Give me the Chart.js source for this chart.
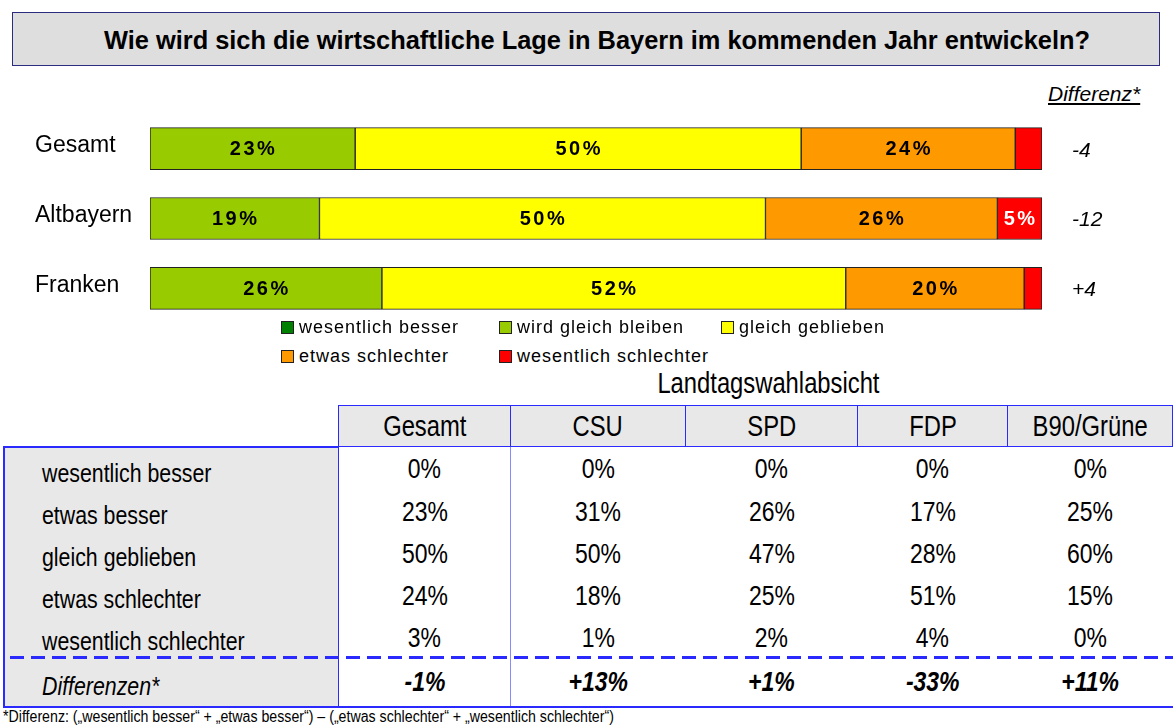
<!DOCTYPE html>
<html lang="de">
<head>
<meta charset="utf-8">
<title>Wirtschaftliche Lage in Bayern</title>
<script src="https://cdn.jsdelivr.net/npm/chart.js@4.4.1/dist/chart.umd.min.js"></script>
<style>
  body { margin: 0; width: 1173px; height: 727px; position: relative; overflow: hidden; background: #fff;
         font-family: "Liberation Sans", Arial, sans-serif; color: #000; }
  /* schmale Schrift: Liberation Sans horizontal gestaucht */
  .n { display: inline-block; transform: scaleX(0.82); transform-origin: center; white-space: nowrap; }
  .n.links { transform-origin: left center; }
  #titel { position: absolute; left: 12px; top: 12px; width: 1148px; height: 54px; box-sizing: border-box;
           background: #dedede; border: 1.5px solid #2b2b80; font-weight: bold; font-size: 25.4px;
           display: flex; align-items: center; justify-content: center; padding: 3px 0 0 22px; }
  #diffKopf { position: absolute; left: 1048px; top: 82px; font-style: italic; font-size: 21px; text-decoration: underline; }
  #chartBox { position: absolute; left: 0; top: 100px; width: 1173px; height: 237px; }
  #legende { position: absolute; left: 281px; top: 317px; width: 600px; font-size: 18px; letter-spacing: 1px; }
  .leg { position: absolute; white-space: nowrap; display: flex; align-items: center; }
  .leg i { display: inline-block; width: 11px; height: 11px; border: 1px solid #222; margin-right: 5px; }
  #lwa { position: absolute; left: 600px; width: 336px; top: 366px; text-align: center; font-size: 29px; line-height: 34px; }
  #tabelle { position: absolute; left: 3px; top: 405px; border-collapse: collapse; table-layout: fixed; }
  #tabelle td { padding: 0; text-align: center; font-size: 28px; line-height: 28px; vertical-align: middle; }
  #tabelle tr.kopf td { height: 40px; background: #e8e8e8; border: 1.5px solid #2a2aff; font-size: 29px; }
  #tabelle tr.kopf td.leer { background: none; border: none; border-bottom: 2px solid #2a2aff; }
  #tabelle tr.zeile td { height: 42px; }
  #tabelle tr.zeile td:not(.label) .n { position: relative; top: 1px; }
  #tabelle td.label { background: #e8e8e8; text-align: left; padding-left: 37px; font-size: 26px;
                      border-left: 2px solid #2a2aff; border-right: 1.5px solid #2a2aff; }
  #tabelle td.label .n { position: relative; top: 4px; }
  #tabelle td.gesamt { border-right: 1.5px solid #8a8aff; }
  #tabelle tr.diff td { height: 48px; border-bottom: 2px solid #2a2aff; font-weight: bold; font-style: italic; }
  #tabelle tr.diff td.label { font-weight: normal; }
  #strich { position: absolute; left: 10px; top: 656px; width: 1163px; height: 3px;
            background: repeating-linear-gradient(90deg, #2a2aff 0 14px, transparent 14px 21px); }
  #fussnote { position: absolute; left: 3px; top: 706px; font-size: 17.3px; line-height: 20px; }
</style>
</head>
<body>
<div id="titel">Wie wird sich die wirtschaftliche Lage in Bayern im kommenden Jahr entwickeln?</div>
<div id="diffKopf">Differenz*</div>
<div id="chartBox"><canvas id="balken"></canvas></div>
<div id="legende"></div>
<div id="lwa"><span class="n">Landtagswahlabsicht</span></div>
<table id="tabelle"></table>
<div id="strich"></div>
<div id="fussnote"><span class="n links">*Differenz: („wesentlich besser“ + „etwas besser“) – („etwas schlechter“ + „wesentlich schlechter“)</span></div>

<script>
// Daten Balkendiagramm
const regionen = ['Gesamt', 'Altbayern', 'Franken'];
const wesentlichBesser = [0, 0, 0];
const gleichBleiben = [23, 19, 26];
const gleichGeblieben = [50, 50, 52];
const etwasSchlechter = [24, 26, 20];
const wesentlichSchlechter = [3, 5, 2];
const differenz = ['-4', '-12', '+4'];
const serienNamen = ['wesentlich besser', 'wird gleich bleiben', 'gleich geblieben', 'etwas schlechter', 'wesentlich schlechter'];
const serienFarben = ['#008000', '#99cc00', '#ffff00', '#ff9900', '#ff0000'];

// Daten Tabelle
const kategorien = ['wesentlich besser', 'etwas besser', 'gleich geblieben', 'etwas schlechter', 'wesentlich schlechter'];
const parteien = ['Gesamt', 'CSU', 'SPD', 'FDP', 'B90/Grüne'];
const werteGesamt = [0, 23, 50, 24, 3];
const werteCSU = [0, 31, 50, 18, 1];
const werteSPD = [0, 26, 47, 25, 2];
const werteFDP = [0, 17, 28, 51, 4];
const werteGruene = [0, 25, 60, 15, 0];
const differenzen = ['-1%', '+13%', '+1%', '-33%', '+11%'];

const serienWerte = [wesentlichBesser, gleichBleiben, gleichGeblieben, etwasSchlechter, wesentlichSchlechter];

// Prozentwerte in den Balken
const balkenWerte = {
    id: 'balkenWerte',
    afterDatasetsDraw(chart) {
        const { ctx } = chart;
        ctx.save();
        ctx.font = 'bold 20px "Liberation Sans", Arial, sans-serif';
        ctx.letterSpacing = '2.5px';
        ctx.textAlign = 'center';
        ctx.textBaseline = 'middle';
        chart.data.datasets.forEach((ds, i) => {
            chart.getDatasetMeta(i).data.forEach((bar, j) => {
                if (ds.data[j] < 5) return;
                ctx.fillStyle = i === 4 ? '#fff' : '#000';
                ctx.fillText(ds.data[j] + '%', (bar.base + bar.x) / 2 + 1, bar.y + 1);
            });
        });
        ctx.restore();
    }
};

// Differenz rechts neben den Balken
const differenzSpalte = {
    id: 'differenzSpalte',
    afterDraw(chart) {
        const { ctx, chartArea, scales } = chart;
        ctx.save();
        ctx.font = 'italic 21px "Liberation Sans", Arial, sans-serif';
        ctx.textAlign = 'left';
        ctx.textBaseline = 'middle';
        ctx.fillStyle = '#000';
        differenz.forEach((d, i) => {
            ctx.fillText(d, chartArea.right + 30, scales.y.getPixelForValue(i) + 2);
        });
        ctx.restore();
    }
};

new Chart(document.getElementById('balken'), {
    type: 'bar',
    data: {
        labels: regionen,
        datasets: serienWerte.map((werte, i) => ({
            label: serienNamen[i],
            data: werte,
            backgroundColor: serienFarben[i],
            borderColor: '#222',
            borderWidth: 1,
            borderSkipped: false,
            barThickness: 42
        }))
    },
    options: {
        indexAxis: 'y',
        responsive: true,
        maintainAspectRatio: false,
        animation: false,
        layout: { padding: { left: 35, right: 131, top: 0, bottom: 0 } },
        scales: {
            x: { stacked: true, display: false, min: 0, max: 100 },
            y: {
                stacked: true,
                grid: { display: false },
                border: { display: false },
                ticks: { color: '#000', crossAlign: 'far', padding: 0, labelOffset: -3,
                         font: { family: '"Liberation Sans", Arial, sans-serif', size: 23 } },
                afterFit: (s) => { s.width = 115; }
            }
        },
        plugins: { legend: { display: false }, tooltip: { enabled: false } }
    },
    plugins: [balkenWerte, differenzSpalte]
});

// Legende (3 + 2 Einträge)
const legPos = [[0, 0], [218, 0], [440, 0], [0, 29], [218, 29]];
const legende = document.getElementById('legende');
serienNamen.forEach((name, i) => {
    const el = document.createElement('div');
    el.className = 'leg';
    el.style.left = legPos[i][0] + 'px';
    el.style.top = legPos[i][1] + 'px';
    el.innerHTML = '<i style="background:' + serienFarben[i] + '"></i>' + name;
    legende.appendChild(el);
});

// Tabelle
const spalten = [werteGesamt, werteCSU, werteSPD, werteFDP, werteGruene];
const breiten = [335, 172, 175, 173, 150, 165];
const n = (t, links) => '<span class="n' + (links ? ' links' : '') + '">' + t + '</span>';
const tab = document.getElementById('tabelle');
let html = '<colgroup>' + breiten.map(b => '<col style="width:' + b + 'px">').join('') + '</colgroup>';
html += '<tr class="kopf"><td class="leer"></td>' + parteien.map(p => '<td>' + n(p) + '</td>').join('') + '</tr>';
kategorien.forEach((k, r) => {
    html += '<tr class="zeile"><td class="label">' + n(k, true) + '</td>' +
        spalten.map((s, c) => '<td' + (c === 0 ? ' class="gesamt"' : '') + '>' + n(s[r] + '%') + '</td>').join('') + '</tr>';
});
html += '<tr class="diff"><td class="label"><i>' + n('Differenzen*', true) + '</i></td>' +
    differenzen.map((d, c) => '<td' + (c === 0 ? ' class="gesamt"' : '') + '>' + n(d) + '</td>').join('') + '</tr>';
tab.innerHTML = html;
</script>
</body>
</html>
